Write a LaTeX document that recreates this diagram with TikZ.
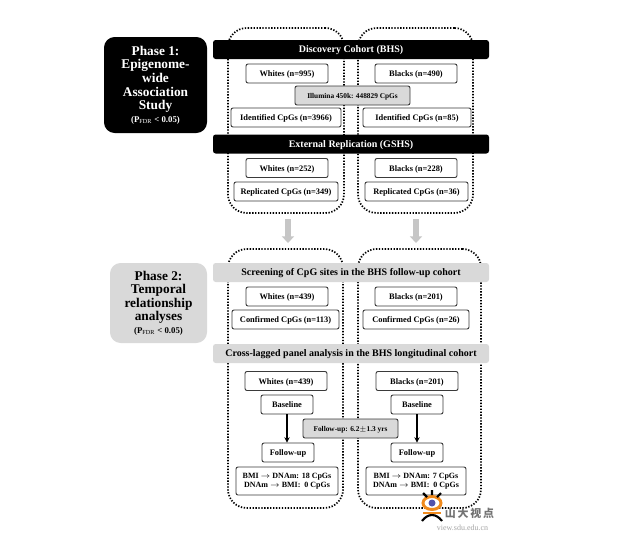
\documentclass[tikz,border=0pt]{standalone}
\usepackage{fontspec}
\setmainfont{Liberation Serif}
\newfontfamily\cjkfont{Noto Sans CJK SC}
\usepackage{tikz}
\usetikzlibrary{arrows.meta}
\definecolor{barblack}{HTML}{000000}
\definecolor{bargray}{HTML}{D9D9D9}
\definecolor{boxline}{HTML}{3A3A3A}
\definecolor{markorange}{HTML}{F08A1D}
\tikzset{
	cohort/.style={draw=black,line width=1.3pt,dash pattern=on 1pt off 1.2pt,rounded corners=14pt,inner sep=0pt},
	phase/.style={rounded corners=8pt,align=center,inner sep=0pt,font=\bfseries\fontsize{10}{10.2}\selectfont},
	bar/.style={rounded corners=2pt,minimum width=207pt,minimum height=14.25pt,inner sep=0pt,text height=6.6pt,text depth=1.6pt,font=\bfseries\fontsize{7.5}{9}\selectfont},
	darkbar/.style={bar,fill=barblack,text=white},
	greybar/.style={bar,fill=bargray},
	resultbox/.style={draw=boxline,line width=0.7pt,rounded corners=1.5pt,fill=white,minimum height=14.25pt,inner sep=0pt,font=\bfseries\fontsize{6}{7.2}\selectfont,align=center},
	popbox/.style={resultbox,text height=6pt,text depth=1.5pt,font=\bfseries\fontsize{6.3}{7.4}\selectfont},
	notebox/.style={popbox,fill=bargray,font=\bfseries\fontsize{5.5}{6.5}\selectfont},
	bigarrow/.style={draw=gray!45,line width=5pt,-{Triangle[width=9pt,length=5pt]}},
}
\begin{document}
\begin{tikzpicture}[x=0.75pt,y=-0.75pt]
	\useasboundingbox[fill=white] (0,0) rectangle (638,547);

	% dotted cohorts
	\node[cohort,minimum width=87pt,minimum height=138.75pt] (w1) at (286,120.5) {};
	\node[cohort,minimum width=86.25pt,minimum height=138.75pt] (b1) at (415.5,120.5) {};
	\node[cohort,minimum width=86.25pt,minimum height=194.25pt] (w2) at (285.5,378.5) {};
	\node[cohort,minimum width=92.25pt,minimum height=194.25pt] (b2) at (419.5,378.5) {};

	% phases
	\node[phase,fill=black,text=white,minimum width=77.25pt,minimum height=72pt] (p1) at (155.5,85)
		{Phase 1:\\Epigenome-\\wide\\Association\\Study\\[-1pt]{\fontsize{6.6}{8}\selectfont (P$_{\mathrm{FDR}}$ < 0.05)}};
	\node[phase,fill=bargray,minimum width=72.75pt,minimum height=60pt] (p2) at (158.5,303)
		{Phase 2:\\Temporal\\relationship\\analyses\\[-1pt]{\fontsize{6.6}{8}\selectfont (P$_{\mathrm{FDR}}$ < 0.05)}};

	% bars
	\node[darkbar] (disc) at (351,49.5) {Discovery Cohort (BHS)};
	\node[darkbar] (ext) at (351,144) {External Replication (GSHS)};
	\node[greybar] (scr) at (351,272.5) {Screening of CpG sites in the BHS follow-up cohort};
	\node[greybar] (cross) at (351,353.5) {Cross-lagged panel analysis in the BHS longitudinal cohort};

	% phase 1 boxes
	\node[popbox,minimum width=61.5pt] (wd) at (287,73.5) {Whites (n=995)};
	\node[popbox,minimum width=61.5pt] (bd) at (416,73.5) {Blacks (n=490)};
	\node[notebox,minimum width=86.25pt] (ill) at (352.5,95.5) {Illumina 450k: 448829 CpGs};
	\node[popbox,minimum width=82.5pt] (wi) at (286,117.5) {Identified CpGs (n=3966)};
	\node[popbox,minimum width=81pt] (bi) at (417,117.5) {Identified CpGs (n=85)};
	\node[popbox,minimum width=61.5pt] (wg) at (287,168) {Whites (n=252)};
	\node[popbox,minimum width=61.5pt] (bg) at (416,168) {Blacks (n=228)};
	\node[popbox,minimum width=78pt] (wr) at (286,191.5) {Replicated CpGs (n=349)};
	\node[popbox,minimum width=77.25pt] (br) at (416.5,191.5) {Replicated CpGs (n=36)};

	% phase 2 boxes
	\node[popbox,minimum width=61.5pt] (ws) at (287,296.5) {Whites (n=439)};
	\node[popbox,minimum width=61.5pt] (bs) at (416,296.5) {Blacks (n=201)};
	\node[popbox,minimum width=80.25pt] (wc) at (285.5,319.5) {Confirmed CpGs (n=113)};
	\node[popbox,minimum width=79.5pt] (bc) at (416,319.5) {Confirmed CpGs (n=26)};
	\node[popbox,minimum width=61.5pt] (wl) at (286,381) {Whites (n=439)};
	\node[popbox,minimum width=61.5pt] (bl) at (417,381) {Blacks (n=201)};
	\node[popbox,minimum width=39pt] (wb) at (287,404.5) {Baseline};
	\node[popbox,minimum width=39pt] (bb) at (417,404.5) {Baseline};
	\node[popbox,minimum width=39pt] (wf) at (288,452.5) {Follow-up};
	\node[popbox,minimum width=39pt] (bf) at (417,452.5) {Follow-up};
	\node[notebox,minimum width=71.25pt] (fu) at (350.5,428.5) {Follow-up: 6.2$\pm$1.3 yrs};
	\node[resultbox,minimum width=76.5pt,minimum height=21pt] (wm) at (287,481) {BMI $\rightarrow$ DNAm: 18 CpGs\\DNAm $\rightarrow$ BMI:\ \ 0 CpGs};
	\node[resultbox,minimum width=75pt,minimum height=21pt] (bm) at (416,481) {BMI $\rightarrow$ DNAm: 7 CpGs\\DNAm $\rightarrow$ BMI:\ \ 0 CpGs};

	% arrows
	\coordinate (wa) at (288,219);
	\coordinate (wz) at (288,243);
	\coordinate (ba) at (416,219);
	\coordinate (bz) at (416,243);
	\draw[bigarrow] (wa) -- (wz);
	\draw[bigarrow] (ba) -- (bz);
	\draw[line width=0.9pt,-{Stealth[length=4pt,width=4pt]}] (wb) -- (wb|-wf.north);
	\draw[line width=0.9pt,-{Stealth[length=4pt,width=4pt]}] (bb) -- (bb|-bf.north);

	% watermark
	\draw[markorange,line width=2.2pt,fill=white] (432,503) ellipse (9 and 6.5);
	\fill[blue!35!gray] (432,503) circle (3.5);
	\draw[black,line width=1.6pt] (422,521) .. controls (428,513) and (436,513) .. (442,521);
	\draw[markorange,line width=1.6pt] (423,513) -- (441,513);
	\draw[black,line width=1.6pt] (423,493) -- (427,497) (441,493) -- (437,497) (432,490) -- (432,495);
	\node[inner sep=0pt,text=black!55,font=\cjkfont\bfseries\fontsize{8.2}{10}\selectfont] (mark) at (469.5,513) {山\,大\,视\,点};
	\node[inner sep=0pt,text=black!35,font=\fontsize{6}{7}\selectfont] (url) at (462.5,528) {view.sdu.edu.cn};
\end{tikzpicture}
\end{document}
